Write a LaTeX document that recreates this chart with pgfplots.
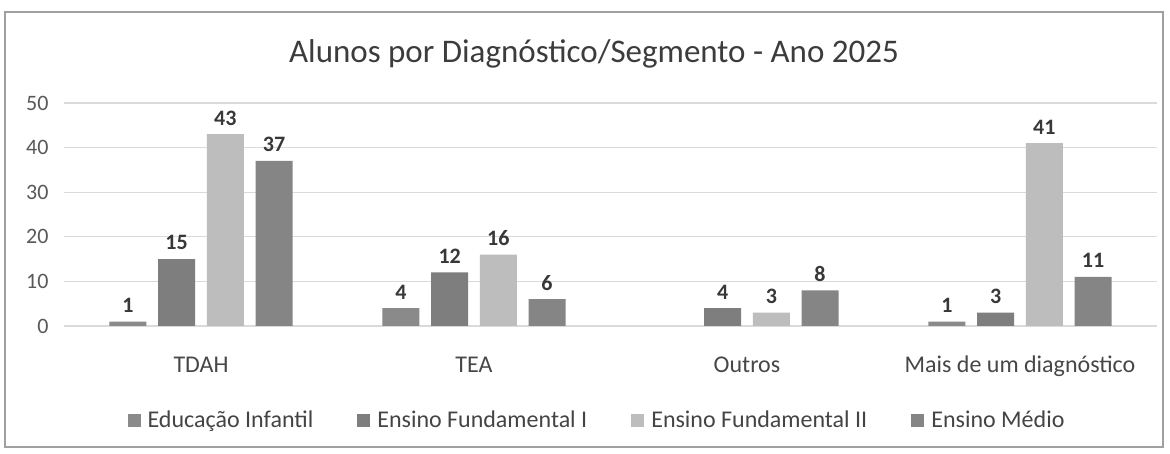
\documentclass[border=0pt]{standalone}
\usepackage{fontspec}
\setmainfont{Carlito}
\usepackage{pgfplots}
\pgfplotsset{compat=1.18}
\definecolor{cEI}{HTML}{8A8A8A}
\definecolor{cEFI}{HTML}{7E7E7E}
\definecolor{cEFII}{HTML}{BDBDBD}
\definecolor{cEM}{HTML}{858585}
\definecolor{gridC}{HTML}{DADADA}
\definecolor{frameC}{HTML}{A0A0A0}
\definecolor{tickC}{HTML}{595959}
\definecolor{catC}{HTML}{474747}
\definecolor{legC}{HTML}{444444}
\definecolor{labC}{HTML}{383838}
\definecolor{titC}{HTML}{3C3C3C}
\pgfplotsset{sqleg/.style={legend image code/.code={\fill[##1,draw=none] (0pt,-3.25pt) rectangle (6.5pt,3.25pt);}}}
\begin{document}
\begin{tikzpicture}
\path[use as bounding box] (-32.25pt,-64pt) rectangle (552.75pt,163pt);
\fill[white] (-32.25pt,-64pt) rectangle (552.75pt,163pt);
\draw[color=frameC, line width=0.8pt] (-29.75pt,-60.5pt) rectangle (549.25pt,157pt);
\begin{axis}[
  at={(0pt,0pt)}, anchor=south west,
  scale only axis, width=546pt, height=111.5pt,
  xmin=-0.5, xmax=3.5, ymin=0, ymax=50,
  ybar=5.85pt, bar width=18.5pt,
  axis line style={draw=none}, tick style={draw=none},
  ymajorgrids, grid style={color=gridC, line width=0.6pt},
  ytick={0,10,20,30,40,50},
  xtick={0,1,2,3},
  xticklabels={TDAH,TEA,Outros,Mais de um diagnóstico},
  xticklabel style={font=\fontsize{12}{14}\selectfont, text=catC, anchor=base, yshift=-19pt},
  yticklabel style={font=\fontsize{11}{13}\selectfont, text=tickC, xshift=-4.5pt},
  /pgf/number format/assume math mode=true,
  nodes near coords,
  nodes near coords style={font=\bfseries\fontsize{11}{13}\selectfont, text=labC, yshift=1pt},
  legend columns=4,
  legend style={draw=none, fill=none, at={(axis description cs:0.4886,-0.425)}, anchor=center,
    font=\fontsize{12}{14}\selectfont, text=legC,
    /tikz/every odd column/.append style={column sep=1.5pt},
    /tikz/every even column/.append style={column sep=20pt}},
  legend cell align=left,
]
\addplot[fill=cEI, draw=none, sqleg] coordinates {(0,1) (1,4) (3,1)};
\addplot[fill=cEFI, draw=none, sqleg] coordinates {(0,15) (1,12) (2,4) (3,3)};
\addplot[fill=cEFII, draw=none, sqleg] coordinates {(0,43) (1,16) (2,3) (3,41)};
\addplot[fill=cEM, draw=none, sqleg] coordinates {(0,37) (1,6) (2,8) (3,11)};
\legend{Educação Infantil, Ensino Fundamental I, Ensino Fundamental II, Ensino Médio}
\end{axis}
\node[font=\fontsize{16.5}{19}\selectfont, text=titC, anchor=base] at (264.75pt,131.5pt) {Alunos por Diagnóstico/Segmento - Ano 2025};
\end{tikzpicture}
\end{document}
